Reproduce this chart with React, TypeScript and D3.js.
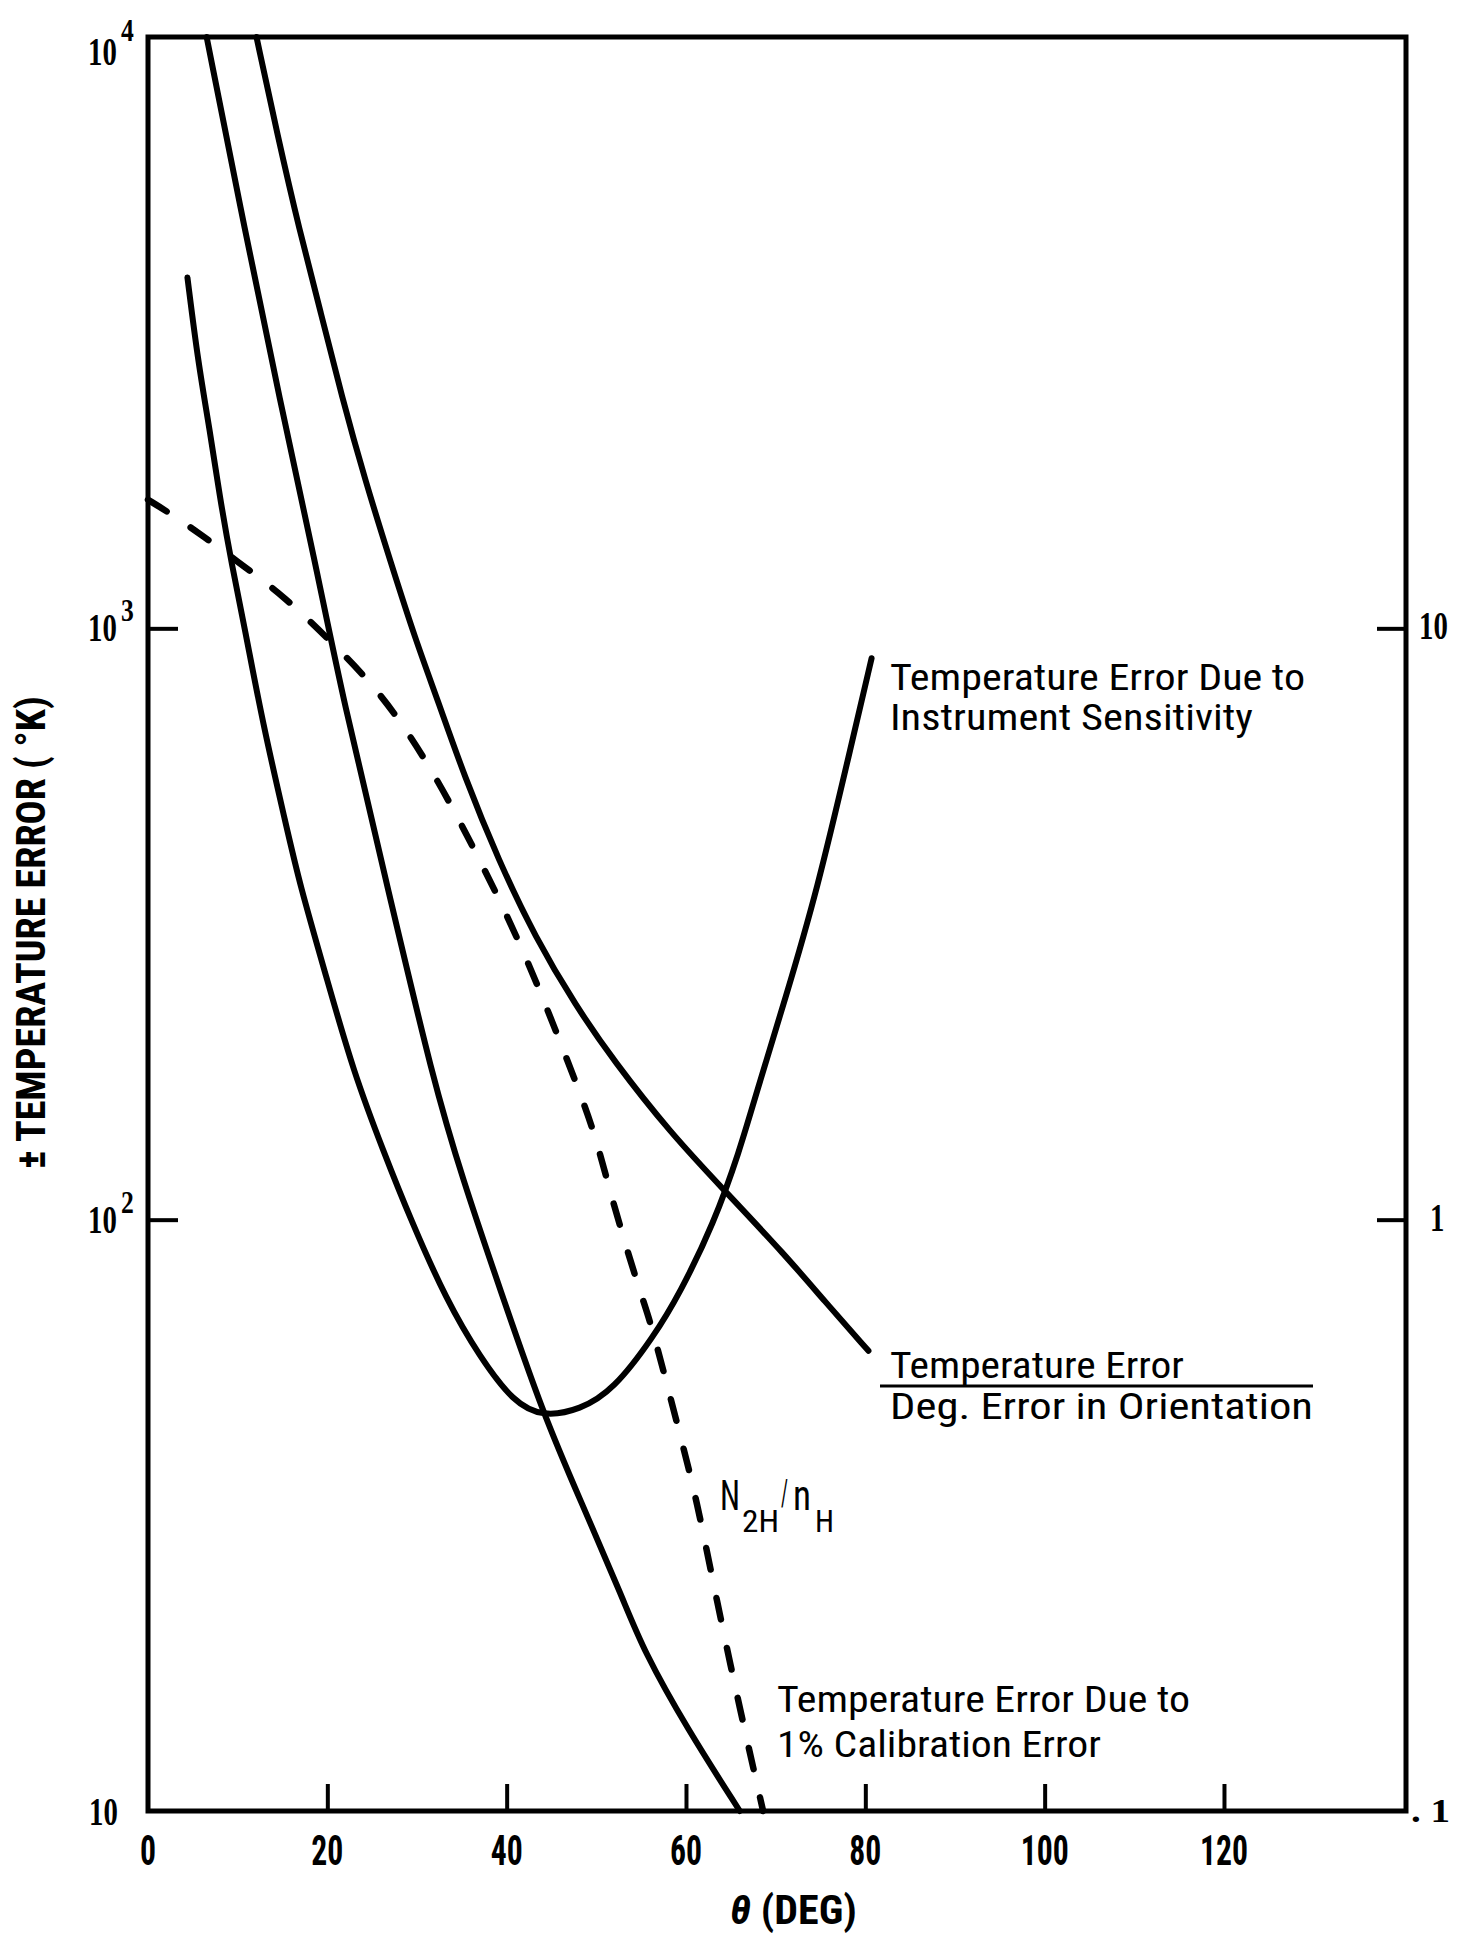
import React, { useEffect, useRef } from "react";
import * as d3 from "d3";

// theta (deg) vs temperature error (deg K)
const instrumentSensitivity = [
  [4.4, 3920], [5.6, 2810], [6.9, 2160], [8.0, 1670], [9.3, 1290], [10.8, 1000],
  [12.8, 690], [15.4, 465], [16.9, 370], [19.9, 257], [22.9, 178], [26.3, 130],
  [29.3, 100], [33.3, 73], [37.0, 58.6], [40.8, 49], [44.1, 46.4], [48.2, 47.7],
  [51.9, 51.5], [56.4, 63.4], [59.3, 75], [63.1, 98.5], [66.0, 131], [67.7, 161],
  [71.1, 237], [74.6, 359], [78.3, 622], [80.7, 890],
];

const calibrationError = [
  [6.54, 10000], [10.8, 4720], [14.7, 2430], [18.6, 1306], [21.75, 757],
  [26.8, 361], [31.8, 172], [35.1, 117], [39.3, 76], [44.1, 46.8], [48.2, 33.6],
  [53.0, 22.8], [55.25, 18.7], [60.1, 13.8], [66.0, 10],
];

const orientationError = [
  [12.1, 10000], [14.4, 6870], [16.9, 4700], [19.3, 3410], [21.6, 2470],
  [24.2, 1783], [27.1, 1289], [29.8, 960], [32.3, 757], [35.3, 561], [39.1, 405],
  [43.2, 300], [47.7, 230], [51.9, 186], [58.3, 140], [64.3, 112], [71.1, 87],
  [75.4, 73], [80.35, 60],
];

// N2H/nH, right hand axis
const densityRatio = [
  [0, 16.5], [2.6, 15.6], [5.95, 14.4], [10.8, 12.7], [15.25, 11.3], [20.1, 9.6],
  [24.2, 8.3], [27.5, 7.2], [31.1, 5.95], [34.4, 4.84], [37.0, 4.05], [39.6, 3.38],
  [42.5, 2.7], [45.1, 2.16], [47.7, 1.71], [49.7, 1.42], [51.5, 1.12], [53.6, 0.87],
  [55.35, 0.72], [56.4, 0.643], [59.3, 0.435], [61.2, 0.336], [63.4, 0.228],
  [66.0, 0.149], [68.6, 0.1],
];

const xTickValues = [20, 40, 60, 80, 100, 120];
const xLabelValues = [0, 20, 40, 60, 80, 100, 120];
const leftTickValues = [1000, 100];
const leftPowers = [4, 3, 2];
const rightTickValues = [10, 1];
const rightLabels = ["10", "1"];

const W = 1482;
const H = 1933;
const sans = "'Liberation Sans Narrow', 'Roboto Condensed', 'Liberation Sans', Arial, sans-serif";
const serif = "'Liberation Serif', 'DejaVu Serif', serif";

function Chart() {
  const svgRef = useRef(null);

  useEffect(() => {
    const svg = d3.select(svgRef.current);
    svg.selectAll("*").remove();

    const x = d3.scaleLinear().domain([0, 140.3]).range([148, 1406]);
    const yL = d3.scaleLog().domain([10, 10000]).range([1811, 37]);
    const yR = d3.scaleLog().domain([0.1, 100]).range([1811, 37]);

    svg.append("rect").attr("width", W).attr("height", H).attr("fill", "#fff");

    // frame
    svg
      .append("rect")
      .attr("x", x(0))
      .attr("y", yL(10000))
      .attr("width", x(140.3) - x(0))
      .attr("height", yL(10) - yL(10000))
      .attr("fill", "none")
      .attr("stroke", "#000")
      .attr("stroke-width", 5);

    const tidy = (g) => {
      g.select(".domain").remove();
      g.selectAll("line").attr("stroke", "#000").attr("stroke-width", 4);
    };

    svg
      .append("g")
      .attr("transform", `translate(0,${yL(10)})`)
      .call(d3.axisBottom(x).tickValues(xTickValues).tickSize(-27).tickFormat(() => ""))
      .call(tidy);
    svg
      .append("g")
      .attr("transform", `translate(${x(0)},0)`)
      .call(d3.axisLeft(yL).tickValues(leftTickValues).tickSize(-30).tickFormat(() => ""))
      .call(tidy);
    svg
      .append("g")
      .attr("transform", `translate(${x(140.3)},0)`)
      .call(d3.axisRight(yR).tickValues(rightTickValues).tickSize(-29).tickFormat(() => ""))
      .call(tidy);

    // bottom tick labels
    svg
      .append("g")
      .selectAll("text")
      .data(xLabelValues)
      .join("text")
      .attr("x", (d) => x(d))
      .attr("y", 1865)
      .attr("text-anchor", "middle")
      .attr("font-family", sans)
      .attr("font-weight", "bold")
      .attr("font-size", 42)
      .attr("textLength", (d) => String(d).length * 16)
      .attr("lengthAdjust", "spacingAndGlyphs")
      .text((d) => d);

    // left labels 10^n, squeezed with a transform
    const lg = svg.append("g").attr("font-family", serif).attr("font-weight", "bold");
    leftPowers.forEach((p) => {
      const ty = yL(Math.pow(10, p));
      const base = p === 4 ? 65 : ty + 13;
      const supBase = p === 4 ? 41 : ty - 7;
      lg.append("text")
        .attr("transform", `translate(88,${base}) scale(0.72,1)`)
        .attr("font-size", 40)
        .text("10");
      lg.append("text")
        .attr("transform", `translate(121,${supBase}) scale(0.8,1)`)
        .attr("font-size", 32)
        .text(p);
    });
    lg.append("text")
      .attr("transform", `translate(89,${yL(10) + 14}) scale(0.72,1)`)
      .attr("font-size", 40)
      .text("10");

    // right labels
    rightTickValues.forEach((v, i) => {
      lg.append("text")
        .attr("transform", `translate(${rightLabels[i].length > 1 ? 1419 : 1430},${yR(v) + 11}) scale(0.72,1)`)
        .attr("font-size", 40)
        .text(rightLabels[i]);
    });
    lg.append("text")
      .attr("transform", `translate(1411,${yR(0.1) + 11}) scale(1.15,1)`)
      .attr("font-size", 34)
      .text(". 1");

    // curves
    const line = d3
      .line()
      .x((d) => x(d[0]))
      .y((d) => yL(d[1]))
      .curve(d3.curveBasis);
    const lineR = d3
      .line()
      .x((d) => x(d[0]))
      .y((d) => yR(d[1]))
      .curve(d3.curveBasis);

    [instrumentSensitivity, calibrationError, orientationError].forEach((s) => {
      svg
        .append("path")
        .attr("d", line(s))
        .attr("fill", "none")
        .attr("stroke", "#000")
        .attr("stroke-width", 6)
        .attr("stroke-linecap", "round");
    });
    svg
      .append("path")
      .attr("d", lineR(densityRatio))
      .attr("fill", "none")
      .attr("stroke", "#000")
      .attr("stroke-width", 6.5)
      .attr("stroke-linecap", "round")
      .attr("stroke-dasharray", "22 29");

    // annotations
    const ann = svg.append("g").attr("font-family", sans).attr("font-size", 36);
    const put = (t, px, py, len, size = 36) =>
      ann
        .append("text")
        .attr("x", px)
        .attr("y", py)
        .attr("font-size", size)
        .attr("textLength", len)
        .attr("lengthAdjust", "spacingAndGlyphs")
        .text(t);

    put("Temperature Error Due to", 890, 690, 415);
    put("Instrument Sensitivity", 890, 730, 363);

    put("Temperature Error", 890, 1378, 294);
    ann.append("line")
      .attr("x1", 880)
      .attr("x2", 1313)
      .attr("y1", 1386)
      .attr("y2", 1386)
      .attr("stroke", "#000")
      .attr("stroke-width", 3);
    put("Deg. Error in Orientation", 890, 1419, 423);

    put("N", 720, 1510, 20, 42);
    put("2H", 742, 1532, 37, 31);
    put("/", 781, 1505, 7, 36);
    put("n", 793, 1510, 18, 42);
    put("H", 815, 1532, 19, 31);

    put("Temperature Error Due to", 777, 1712, 413);
    put("1% Calibration Error", 777, 1757, 324);

    // axis titles
    svg
      .append("text")
      .attr("transform", "translate(45,1169) rotate(-90)")
      .attr("font-family", sans)
      .attr("font-weight", "bold")
      .attr("font-size", 40)
      .attr("textLength", 473)
      .attr("lengthAdjust", "spacingAndGlyphs")
      .text("± TEMPERATURE ERROR ( °K)");

    const xt = svg
      .append("text")
      .attr("x", 730)
      .attr("y", 1924)
      .attr("font-family", sans)
      .attr("font-weight", "bold")
      .attr("font-size", 40)
      .attr("textLength", 127)
      .attr("lengthAdjust", "spacingAndGlyphs");
    xt.append("tspan").attr("font-style", "italic").text("θ");
    xt.append("tspan").text(" (DEG)");
  }, []);

  return (
    <svg
      ref={svgRef}
      width={W}
      height={H}
      style={{ position: "absolute", left: 0, top: 0, display: "block" }}
    />
  );
}

export default function App() {
  return <Chart />;
}
